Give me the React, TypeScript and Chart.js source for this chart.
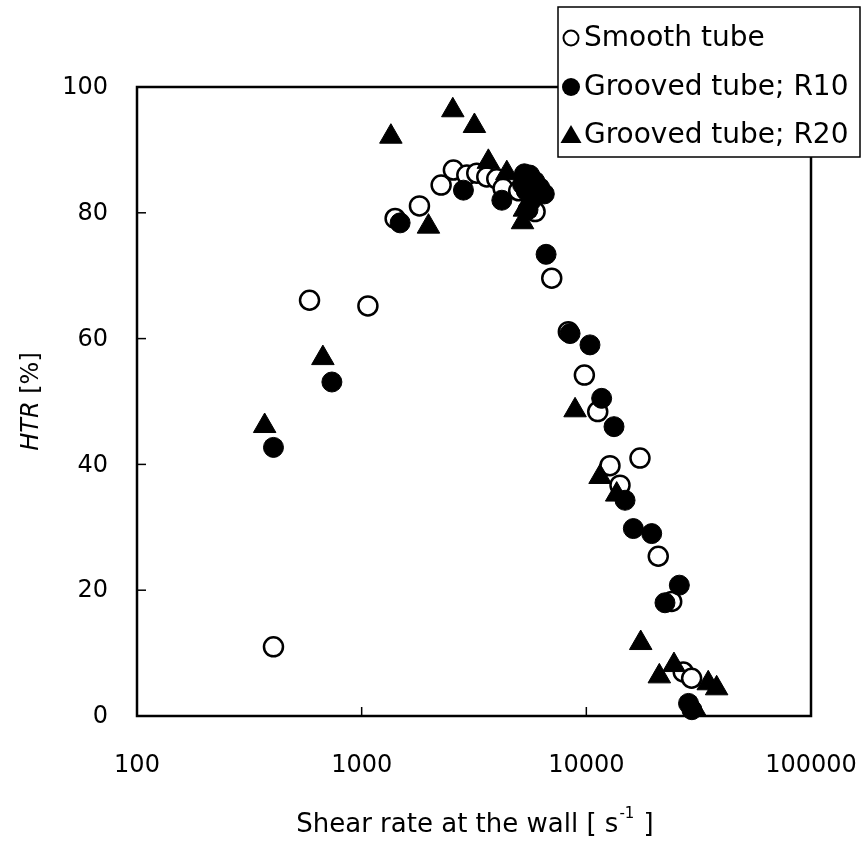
import React, { useEffect, useRef } from 'react';
import { Chart, registerables } from 'chart.js';

Chart.register(...registerables);

// ---- data (x = shear rate at the wall [1/s], y = HTR [%]) ----
const smoothTube: [number, number][] = [
  [405, 11.0], [586, 66.1], [1066, 65.2], [1409, 79.1], [1808, 81.1], [2258, 84.4],
  [2560, 86.8], [2938, 86.0], [3253, 86.3], [3605, 85.7], [3993, 85.4], [4260, 83.9],
  [5000, 83.5], [5915, 80.2], [7015, 69.6], [8316, 61.1], [9800, 54.2], [11240, 48.4],
  [12740, 39.8], [14120, 36.7], [17330, 41.0], [20900, 25.4], [23990, 18.2],
  [27000, 7.0], [29420, 6.0],
];

const groovedR10: [number, number][] = [
  [405, 42.7], [737, 53.1], [1483, 78.4], [2838, 83.6], [4206, 82.0], [5200, 84.5],
  [5300, 86.2], [5600, 86.0], [5900, 85.0], [6200, 84.0], [6500, 83.0], [5400, 83.5],
  [5700, 82.0], [5500, 80.5], [6620, 73.4], [8466, 60.8], [10380, 59.0], [11700, 50.5],
  [13280, 46.0], [14870, 34.3], [16190, 29.8], [19540, 29.0], [25940, 20.8],
  [22390, 18.0], [28500, 2.0], [29500, 1.0],
];

const groovedR20: [number, number][] = [
  [370, 46.1], [672, 56.9], [1349, 92.1], [1983, 77.8], [2545, 96.3], [3176, 93.8],
  [3664, 88.1], [4427, 86.3], [5200, 78.5], [5300, 80.5], [8910, 48.6], [11510, 38.0],
  [13650, 35.2], [17460, 11.6], [21130, 6.3], [24550, 8.1], [34880, 5.2], [38020, 4.4],
  [30500, 1.0],
];

const seriesNames = ['Smooth tube', 'Grooved tube; R10', 'Grooved tube; R20'];
const xTickValues = [100, 1000, 10000, 100000];
const yTickValues = [0, 20, 40, 60, 80, 100];
const xTitle = 'Shear rate at the wall [ s';
const xTitleSup = '-1';
const xTitleEnd = ' ]';
const yTitleItalic = 'HTR';
const yTitleRest = ' [%]';

const FONT = '"DejaVu Sans", sans-serif';

const toPoints = (arr: [number, number][]) => arr.map(([x, y]) => ({ x, y }));

const framePlugin = {
  id: 'frameAndTitles',
  beforeDatasetsDraw(chart: any) {
    const { ctx, chartArea, scales } = chart;
    const { left, right, top, bottom } = chartArea;
    ctx.save();
    ctx.strokeStyle = '#000';
    ctx.lineWidth = 2.5;
    ctx.strokeRect(left, top, right - left, bottom - top);
    ctx.lineWidth = 1.5;
    for (const v of yTickValues) {
      const y = scales.y.getPixelForValue(v);
      ctx.beginPath();
      ctx.moveTo(left, y);
      ctx.lineTo(left + 9, y);
      ctx.stroke();
    }
    for (const v of xTickValues) {
      const x = scales.x.getPixelForValue(v);
      ctx.beginPath();
      ctx.moveTo(x, bottom);
      ctx.lineTo(x, bottom - 9);
      ctx.stroke();
    }
    // y tick labels, right aligned
    ctx.fillStyle = '#000';
    ctx.font = `24px ${FONT}`;
    ctx.textAlign = 'right';
    ctx.textBaseline = 'middle';
    for (const v of yTickValues) {
      const y = scales.y.getPixelForValue(v);
      ctx.fillText(String(v), left - 29, y + 1);
    }
    ctx.restore();
  },
  afterDraw(chart: any) {
    const { ctx, chartArea } = chart;
    ctx.save();
    ctx.fillStyle = '#000';
    // x title
    const big = `26px ${FONT}`;
    const small = `15px ${FONT}`;
    ctx.textBaseline = 'middle';
    ctx.font = big;
    const w1 = ctx.measureText(xTitle).width;
    ctx.font = small;
    const w2 = ctx.measureText(xTitleSup).width;
    ctx.font = big;
    const w3 = ctx.measureText(xTitleEnd).width;
    const cx = (chartArea.left + chartArea.right) / 2;
    const x0 = cx - (w1 + w2 + w3) / 2;
    const ty = 825;
    ctx.textAlign = 'left';
    ctx.fillText(xTitle, x0, ty);
    ctx.font = small;
    ctx.fillText(xTitleSup, x0 + w1 + 1, ty - 11);
    ctx.font = big;
    ctx.fillText(xTitleEnd, x0 + w1 + w2 + 2, ty);

    // y title
    ctx.translate(32, (chartArea.top + chartArea.bottom) / 2);
    ctx.rotate(-Math.PI / 2);
    ctx.font = `oblique 24px ${FONT}`;
    const a = ctx.measureText(yTitleItalic).width;
    ctx.font = `24px ${FONT}`;
    const b = ctx.measureText(yTitleRest).width;
    const sx = -(a + b) / 2;
    ctx.font = `oblique 24px ${FONT}`;
    ctx.fillText(yTitleItalic, sx, 0);
    ctx.font = `24px ${FONT}`;
    ctx.fillText(yTitleRest, sx + a, 0);
    ctx.restore();

    // legend box
    ctx.save();
    const bx = 558, by = 7, bw = 302, bh = 150;
    ctx.fillStyle = '#fff';
    ctx.fillRect(bx, by, bw, bh);
    ctx.strokeStyle = '#000';
    ctx.lineWidth = 1.5;
    ctx.strokeRect(bx, by, bw, bh);
    const rows = [38, 87, 135];
    ctx.font = `28px ${FONT}`;
    ctx.textBaseline = 'middle';
    ctx.textAlign = 'left';
    rows.forEach((ry, i) => {
      const mx = 571;
      ctx.lineWidth = 2;
      ctx.strokeStyle = '#000';
      ctx.fillStyle = '#000';
      if (i === 0) {
        ctx.beginPath();
        ctx.arc(mx, ry, 7.5, 0, Math.PI * 2);
        ctx.stroke();
      } else if (i === 1) {
        ctx.beginPath();
        ctx.arc(mx, ry, 9, 0, Math.PI * 2);
        ctx.fill();
      } else {
        ctx.beginPath();
        ctx.moveTo(mx, ry - 10);
        ctx.lineTo(mx + 10.5, ry + 8);
        ctx.lineTo(mx - 10.5, ry + 8);
        ctx.closePath();
        ctx.fill();
      }
      ctx.fillStyle = '#000';
      ctx.fillText(seriesNames[i], 584, ry + 1);
    });
    ctx.restore();
  },
};

export default function App() {
  const ref = useRef<HTMLCanvasElement | null>(null);
  useEffect(() => {
    document.body.style.margin = '0';
    const canvas = ref.current;
    if (!canvas) return;
    const chart = new Chart(canvas, {
      type: 'scatter',
      data: {
        datasets: [
          {
            label: seriesNames[0],
            data: toPoints(smoothTube),
            pointStyle: 'circle',
            pointRadius: 9.5,
            pointBackgroundColor: '#fff',
            pointBorderColor: '#000',
            pointBorderWidth: 2.5,
            order: 3,
          },
          {
            label: seriesNames[1],
            data: toPoints(groovedR10),
            pointStyle: 'circle',
            pointRadius: 10,
            pointBackgroundColor: '#000',
            pointBorderColor: '#000',
            pointBorderWidth: 1,
            order: 2,
          },
          {
            label: seriesNames[2],
            data: toPoints(groovedR20),
            pointStyle: 'triangle',
            pointRadius: 13,
            pointBackgroundColor: '#000',
            pointBorderColor: '#000',
            pointBorderWidth: 1,
            order: 1,
          },
        ] as any,
      },
      options: {
        animation: false,
        responsive: false,
        maintainAspectRatio: false,
        clip: false as any,
        layout: { padding: { left: 0, right: 54, top: 87, bottom: 0 } },
        plugins: { legend: { display: false }, tooltip: { enabled: false } },
        scales: {
          x: {
            type: 'logarithmic',
            min: 100,
            max: 100000,
            grid: { display: false, drawTicks: false },
            border: { display: false },
            afterBuildTicks: (scale: any) => {
              scale.ticks = xTickValues.map((v) => ({ value: v }));
            },
            afterFit: (scale: any) => {
              scale.height = 135;
              scale.paddingLeft = 0;
              scale.paddingRight = 0;
            },
            ticks: {
              color: '#000',
              font: { family: FONT, size: 24 },
              padding: 35,
              maxRotation: 0,
              autoSkip: false,
              callback: (v: any) => String(v),
            },
          },
          y: {
            type: 'linear',
            min: 0,
            max: 100,
            grid: { display: false, drawTicks: false },
            border: { display: false },
            afterBuildTicks: (scale: any) => {
              scale.ticks = yTickValues.map((v) => ({ value: v }));
            },
            afterFit: (scale: any) => {
              scale.width = 137;
              scale.paddingTop = 0;
              scale.paddingBottom = 0;
            },
            ticks: { display: false },
          },
        } as any,
      },
      plugins: [framePlugin],
    });
    return () => chart.destroy();
  }, []);
  return (
    <div style={{ width: 865, height: 851, background: '#fff' }}>
      <canvas ref={ref} width={865} height={851} style={{ display: 'block' }} />
    </div>
  );
}
